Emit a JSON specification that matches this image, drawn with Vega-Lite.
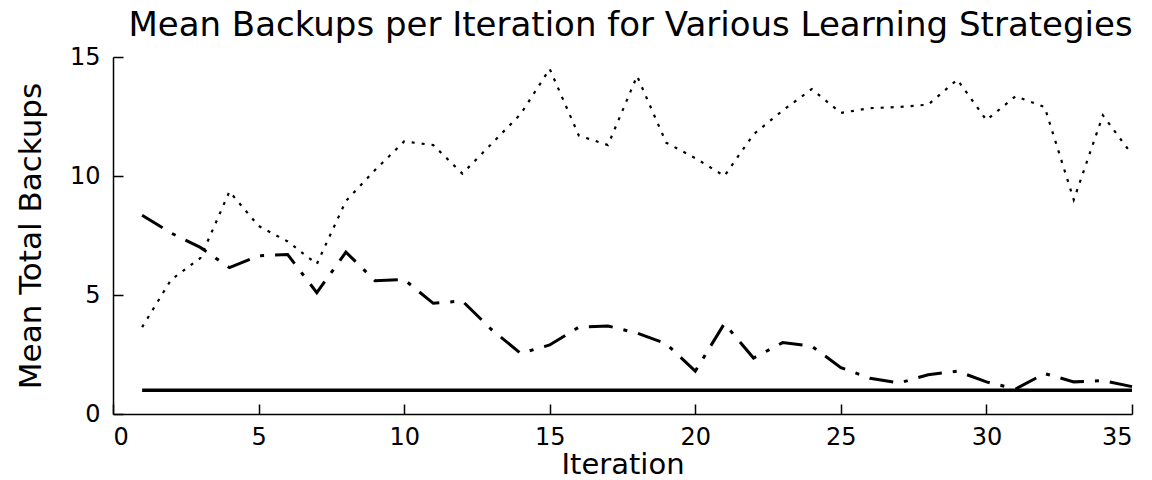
{
  "$schema": "https://vega.github.io/schema/vega-lite/v6.json",
  "autosize": {"type": "none"},
  "width": 1019,
  "height": 357,
  "padding": {"left": 113, "top": 57, "right": 20, "bottom": 66},
  "background": "white",
  "config": {
    "view": {"stroke": null},
    "font": "DejaVu Sans",
    "axis": {
      "domainColor": "black",
      "domainWidth": 1.5,
      "tickColor": "black",
      "tickWidth": 1.5,
      "tickSize": -10,
      "grid": false,
      "labelFont": "DejaVu Sans",
      "labelFontSize": 24,
      "labelColor": "black",
      "titleFont": "DejaVu Sans",
      "titleFontSize": 31,
      "titleFontWeight": "normal",
      "titleColor": "black"
    }
  },
  "title": {
    "text": "Mean Backups per Iteration for Various Learning Strategies",
    "font": "DejaVu Sans",
    "fontSize": 34,
    "fontWeight": "normal",
    "color": "black",
    "anchor": "middle",
    "dx": 8,
    "offset": 2
  },
  "data": {
    "values": [
      {"s": "Strategy A", "it": 1, "v": 3.65}, {"s": "Strategy A", "it": 2, "v": 5.65}, {"s": "Strategy A", "it": 3, "v": 6.55}, {"s": "Strategy A", "it": 4, "v": 9.35}, {"s": "Strategy A", "it": 5, "v": 7.9},
      {"s": "Strategy A", "it": 6, "v": 7.25}, {"s": "Strategy A", "it": 7, "v": 6.3}, {"s": "Strategy A", "it": 8, "v": 8.95}, {"s": "Strategy A", "it": 9, "v": 10.25}, {"s": "Strategy A", "it": 10, "v": 11.45},
      {"s": "Strategy A", "it": 11, "v": 11.3}, {"s": "Strategy A", "it": 12, "v": 10.1}, {"s": "Strategy A", "it": 13, "v": 11.35}, {"s": "Strategy A", "it": 14, "v": 12.6}, {"s": "Strategy A", "it": 15, "v": 14.5},
      {"s": "Strategy A", "it": 16, "v": 11.7}, {"s": "Strategy A", "it": 17, "v": 11.3}, {"s": "Strategy A", "it": 18, "v": 14.2}, {"s": "Strategy A", "it": 19, "v": 11.4}, {"s": "Strategy A", "it": 20, "v": 10.75},
      {"s": "Strategy A", "it": 21, "v": 10.0}, {"s": "Strategy A", "it": 22, "v": 11.75}, {"s": "Strategy A", "it": 23, "v": 12.75}, {"s": "Strategy A", "it": 24, "v": 13.65}, {"s": "Strategy A", "it": 25, "v": 12.65},
      {"s": "Strategy A", "it": 26, "v": 12.85}, {"s": "Strategy A", "it": 27, "v": 12.9}, {"s": "Strategy A", "it": 28, "v": 13.0}, {"s": "Strategy A", "it": 29, "v": 14.05}, {"s": "Strategy A", "it": 30, "v": 12.35},
      {"s": "Strategy A", "it": 31, "v": 13.35}, {"s": "Strategy A", "it": 32, "v": 12.9}, {"s": "Strategy A", "it": 33, "v": 9.0}, {"s": "Strategy A", "it": 34, "v": 12.55}, {"s": "Strategy A", "it": 35, "v": 10.9},
      {"s": "Strategy B", "it": 1, "v": 8.35}, {"s": "Strategy B", "it": 2, "v": 7.6}, {"s": "Strategy B", "it": 3, "v": 7.0}, {"s": "Strategy B", "it": 4, "v": 6.15}, {"s": "Strategy B", "it": 5, "v": 6.65},
      {"s": "Strategy B", "it": 6, "v": 6.7}, {"s": "Strategy B", "it": 7, "v": 5.1}, {"s": "Strategy B", "it": 8, "v": 6.8}, {"s": "Strategy B", "it": 9, "v": 5.6}, {"s": "Strategy B", "it": 10, "v": 5.65},
      {"s": "Strategy B", "it": 11, "v": 4.65}, {"s": "Strategy B", "it": 12, "v": 4.75}, {"s": "Strategy B", "it": 13, "v": 3.55}, {"s": "Strategy B", "it": 14, "v": 2.55}, {"s": "Strategy B", "it": 15, "v": 2.9},
      {"s": "Strategy B", "it": 16, "v": 3.65}, {"s": "Strategy B", "it": 17, "v": 3.7}, {"s": "Strategy B", "it": 18, "v": 3.4}, {"s": "Strategy B", "it": 19, "v": 2.95}, {"s": "Strategy B", "it": 20, "v": 1.8},
      {"s": "Strategy B", "it": 21, "v": 3.8}, {"s": "Strategy B", "it": 22, "v": 2.35}, {"s": "Strategy B", "it": 23, "v": 3.0}, {"s": "Strategy B", "it": 24, "v": 2.85}, {"s": "Strategy B", "it": 25, "v": 1.95},
      {"s": "Strategy B", "it": 26, "v": 1.5}, {"s": "Strategy B", "it": 27, "v": 1.3}, {"s": "Strategy B", "it": 28, "v": 1.65}, {"s": "Strategy B", "it": 29, "v": 1.8}, {"s": "Strategy B", "it": 30, "v": 1.35},
      {"s": "Strategy B", "it": 31, "v": 1.05}, {"s": "Strategy B", "it": 32, "v": 1.7}, {"s": "Strategy B", "it": 33, "v": 1.35}, {"s": "Strategy B", "it": 34, "v": 1.4}, {"s": "Strategy B", "it": 35, "v": 1.15},
      {"s": "Strategy C", "it": 1, "v": 1}, {"s": "Strategy C", "it": 2, "v": 1}, {"s": "Strategy C", "it": 3, "v": 1}, {"s": "Strategy C", "it": 4, "v": 1}, {"s": "Strategy C", "it": 5, "v": 1},
      {"s": "Strategy C", "it": 6, "v": 1}, {"s": "Strategy C", "it": 7, "v": 1}, {"s": "Strategy C", "it": 8, "v": 1}, {"s": "Strategy C", "it": 9, "v": 1}, {"s": "Strategy C", "it": 10, "v": 1},
      {"s": "Strategy C", "it": 11, "v": 1}, {"s": "Strategy C", "it": 12, "v": 1}, {"s": "Strategy C", "it": 13, "v": 1}, {"s": "Strategy C", "it": 14, "v": 1}, {"s": "Strategy C", "it": 15, "v": 1},
      {"s": "Strategy C", "it": 16, "v": 1}, {"s": "Strategy C", "it": 17, "v": 1}, {"s": "Strategy C", "it": 18, "v": 1}, {"s": "Strategy C", "it": 19, "v": 1}, {"s": "Strategy C", "it": 20, "v": 1},
      {"s": "Strategy C", "it": 21, "v": 1}, {"s": "Strategy C", "it": 22, "v": 1}, {"s": "Strategy C", "it": 23, "v": 1}, {"s": "Strategy C", "it": 24, "v": 1}, {"s": "Strategy C", "it": 25, "v": 1},
      {"s": "Strategy C", "it": 26, "v": 1}, {"s": "Strategy C", "it": 27, "v": 1}, {"s": "Strategy C", "it": 28, "v": 1}, {"s": "Strategy C", "it": 29, "v": 1}, {"s": "Strategy C", "it": 30, "v": 1},
      {"s": "Strategy C", "it": 31, "v": 1}, {"s": "Strategy C", "it": 32, "v": 1}, {"s": "Strategy C", "it": 33, "v": 1}, {"s": "Strategy C", "it": 34, "v": 1}, {"s": "Strategy C", "it": 35, "v": 1}
    ]
  },
  "encoding": {
    "x": {
      "field": "it",
      "type": "quantitative",
      "scale": {"domain": [0, 35], "nice": false, "zero": false},
      "axis": {
        "title": "Iteration",
        "values": [0, 5, 10, 15, 20, 25, 30, 35],
        "labelPadding": 21,
        "titlePadding": 1,
        "titleFontSize": 29
      }
    },
    "y": {
      "field": "v",
      "type": "quantitative",
      "scale": {"domain": [0, 15], "nice": false},
      "axis": {
        "title": "Mean Total Backups",
        "values": [0, 5, 10, 15],
        "labelPadding": 23,
        "titlePadding": 22
      }
    }
  },
  "layer": [
    {
      "transform": [{"filter": "datum.s === 'Strategy C'"}],
      "mark": {"type": "line", "color": "black", "strokeWidth": 3.5}
    },
    {
      "transform": [{"filter": "datum.s === 'Strategy B'"}],
      "mark": {"type": "line", "color": "black", "strokeWidth": 3, "strokeDash": [24, 11, 4, 11]}
    },
    {
      "transform": [{"filter": "datum.s === 'Strategy A'"}],
      "mark": {"type": "line", "color": "black", "strokeWidth": 2.2, "strokeDash": [3, 7]}
    }
  ]
}
